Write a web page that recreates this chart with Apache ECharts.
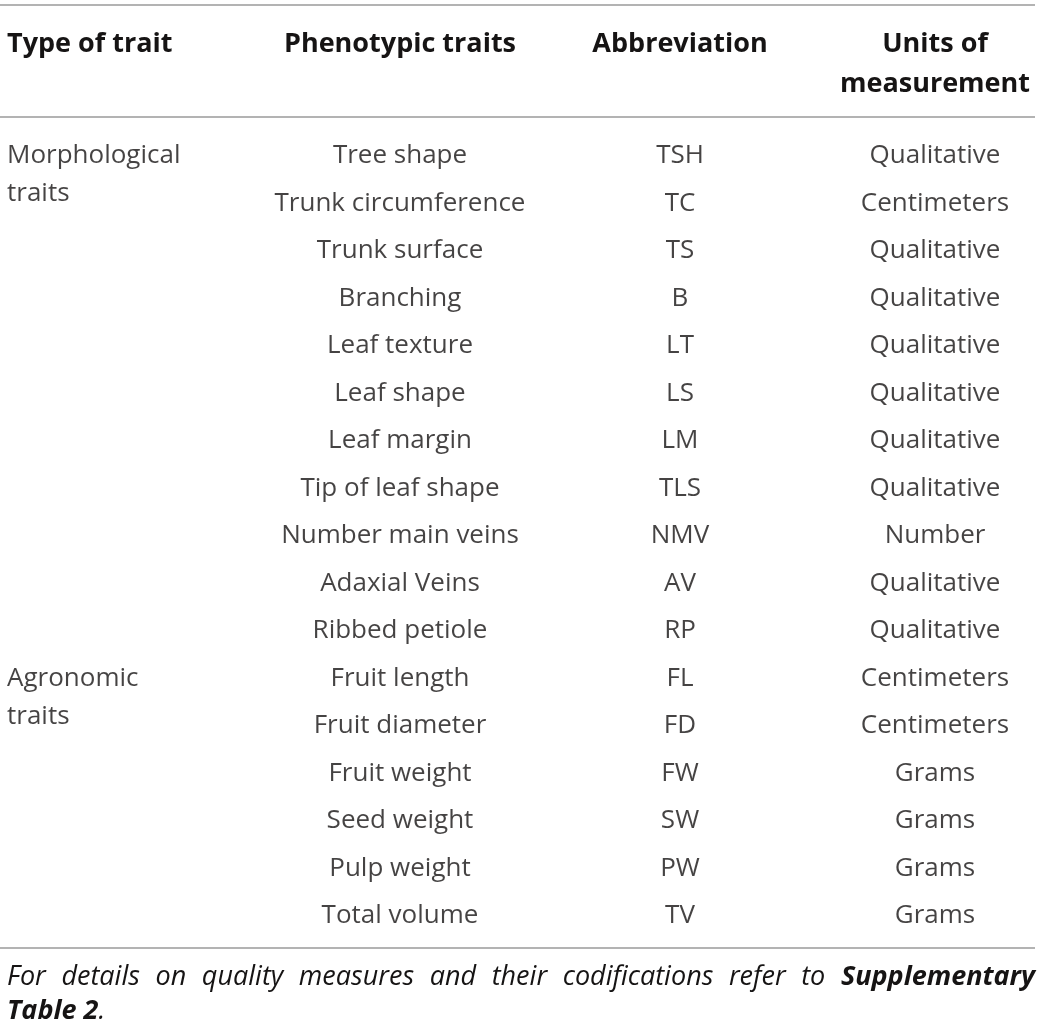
<!DOCTYPE html>
<html>
<head>
  <meta charset="utf-8">
  <title>traits</title>
  <style>
    html, body { margin: 0; padding: 0; background: #fff; }
    #main { width: 1041px; height: 1030px; }
  </style>
</head>
<body>
<div id="main"></div>
<script src="https://cdn.jsdelivr.net/npm/echarts@6/dist/echarts.min.js"></script>
<script>
  // table content
  var headers = ['Type of trait', 'Phenotypic traits', 'Abbreviation', 'Units of\nmeasurement'];
  var traitTypes = ['Morphological\ntraits', 'Agronomic\ntraits'];
  var traitTypeRows = [0, 11];
  var traits = ['Tree shape', 'Trunk circumference', 'Trunk surface', 'Branching', 'Leaf texture',
    'Leaf shape', 'Leaf margin', 'Tip of leaf shape', 'Number main veins', 'Adaxial Veins',
    'Ribbed petiole', 'Fruit length', 'Fruit diameter', 'Fruit weight', 'Seed weight',
    'Pulp weight', 'Total volume'];
  var abbrevs = ['TSH', 'TC', 'TS', 'B', 'LT', 'LS', 'LM', 'TLS', 'NMV', 'AV', 'RP',
    'FL', 'FD', 'FW', 'SW', 'PW', 'TV'];
  var units = ['Qualitative', 'Centimeters', 'Qualitative', 'Qualitative', 'Qualitative',
    'Qualitative', 'Qualitative', 'Qualitative', 'Number', 'Qualitative', 'Qualitative',
    'Centimeters', 'Centimeters', 'Grams', 'Grams', 'Grams', 'Grams'];
  var footWords = ['For', 'details', 'on', 'quality', 'measures', 'and', 'their',
    'codifications', 'refer', 'to', 'Supplementary'];
  var footBold = 'Supplementary';

  // layout
  var colX = [7, 400, 680, 935];
  var FONT = '"Open Sans", "Liberation Sans", sans-serif';
  var TXT = '#161414';
  var RULE = '#9a9a9a';
  var footLeft = 7, footRight = 1035, footY = 964;
  var italic = 'italic 27px ' + FONT;
  var boldItalic = 'italic bold 27px ' + FONT;

  var rows = traits.map(function (t, i) { return String(i); });

  function col(names, colIdx, rowIdx, align) {
    return {
      type: 'scatter',
      symbolSize: 0,
      silent: true,
      data: names.map(function (n, i) {
        return { name: n, value: [colX[colIdx], rowIdx ? rowIdx[i] : i] };
      }),
      label: {
        show: true,
        position: 'inside',
        formatter: '{b}',
        align: align,
        verticalAlign: rowIdx ? 'top' : 'middle',
        offset: rowIdx ? [0, -16] : [0, 3],
        lineHeight: 38,
        fontFamily: FONT,
        fontSize: 26,
        color: TXT
      }
    };
  }

  // justified first footnote line: spread words across the full width
  var ctx = document.createElement('canvas').getContext('2d');
  var widths = footWords.map(function (w) {
    ctx.font = w === footBold ? boldItalic : italic;
    return ctx.measureText(w).width;
  });
  var total = widths.reduce(function (a, b) { return a + b; }, 0);
  var gap = (footRight - footLeft - total) / (footWords.length - 1);
  var cursor = footLeft;
  var footGraphics = footWords.map(function (w, i) {
    var g = {
      type: 'text',
      x: cursor,
      y: footY,
      style: { text: w, font: w === footBold ? boldItalic : italic, fill: TXT, verticalAlign: 'top' }
    };
    cursor += widths[i] + gap;
    return g;
  });
  footGraphics.push({
    type: 'text',
    x: footLeft,
    y: footY + 34,
    style: {
      text: '{b|Table 2}{i|.}',
      verticalAlign: 'top',
      rich: {
        i: { font: italic, fill: TXT },
        b: { font: boldItalic, fill: TXT }
      }
    }
  });

  var myChart = echarts.init(document.getElementById('main'));
  myChart.setOption({
    animation: false,
    grid: { left: 0, right: 0, top: 129.25, height: 807.5 },
    xAxis: { type: 'value', min: 0, max: 1041, show: false },
    yAxis: { type: 'category', data: rows, inverse: true, show: false },
    series: [
      col(traitTypes, 0, traitTypeRows, 'left'),
      col(traits, 1, null, 'center'),
      col(abbrevs, 2, null, 'center'),
      col(units, 3, null, 'center')
    ],
    graphic: [
      { type: 'line', shape: { x1: 0, y1: 5, x2: 1035, y2: 5 }, style: { stroke: RULE, lineWidth: 1.5 } },
      { type: 'line', shape: { x1: 0, y1: 117, x2: 1035, y2: 117 }, style: { stroke: RULE, lineWidth: 1.5 } },
      { type: 'line', shape: { x1: 0, y1: 948, x2: 1035, y2: 948 }, style: { stroke: RULE, lineWidth: 1.5 } }
    ].concat(headers.map(function (h, i) {
      return {
        type: 'text',
        x: colX[i],
        y: 24,
        style: {
          text: h,
          font: 'bold 27px ' + FONT,
          fill: TXT,
          align: i === 0 ? 'left' : 'center',
          verticalAlign: 'top',
          lineHeight: 40
        }
      };
    })).concat(footGraphics)
  });
</script>
</body>
</html>
